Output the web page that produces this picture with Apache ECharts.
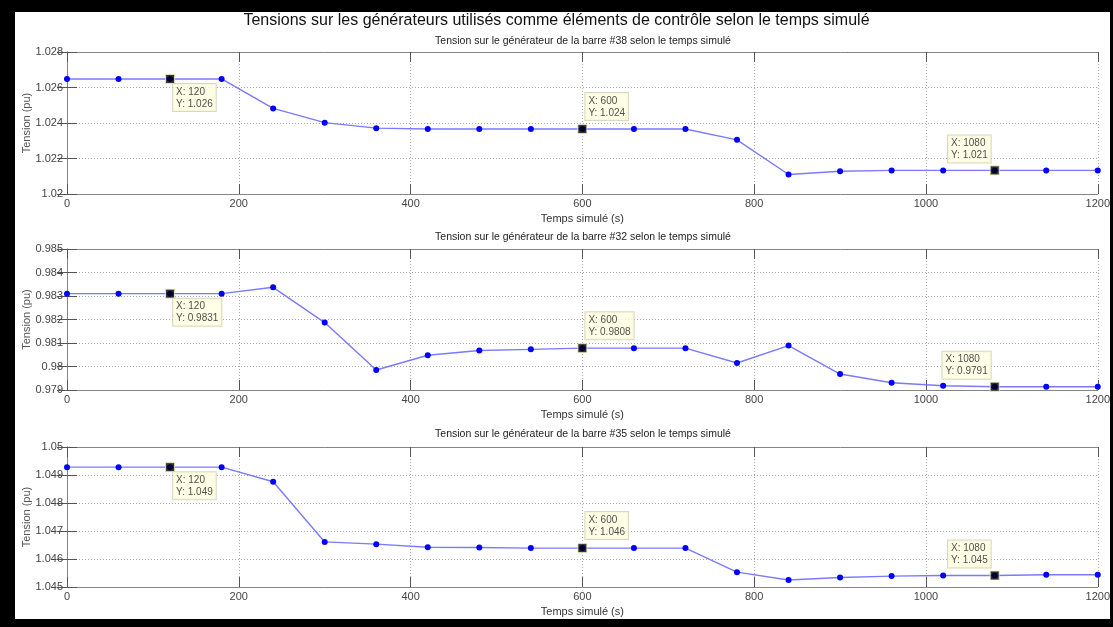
<!DOCTYPE html>
<html>
<head>
<meta charset="utf-8">
<script src="https://cdn.jsdelivr.net/npm/echarts@6/dist/echarts.min.js"></script>
<style>
html,body{margin:0;padding:0;background:#000;width:1113px;height:627px;overflow:hidden;}
#paper{position:absolute;left:15px;top:12px;width:1095px;height:607px;background:#fff;}
#chart{position:absolute;left:0;top:0;width:1113px;height:627px;}
</style>
</head>
<body>
<div id="paper"></div>
<div id="chart"></div>
<script>
// ---- data ----
const mainTitle = "Tensions sur les générateurs utilisés comme éléments de contrôle selon le temps simulé";
const subTitles = [
  "Tension sur le générateur de la barre #38 selon le temps simulé",
  "Tension sur le générateur de la barre #32 selon le temps simulé",
  "Tension sur le générateur de la barre #35 selon le temps simulé"
];
const xLabel = "Temps simulé (s)";
const yLabel = "Tension (pu)";
const times = [0,60,120,180,240,300,360,420,480,540,600,660,720,780,840,900,960,1020,1080,1140,1200];
const v38 = [1.02648,1.02648,1.02648,1.02648,1.02482,1.02402,1.02371,1.02366,1.02366,1.02366,1.02366,1.02366,1.02366,1.02305,1.02110,1.02128,1.02133,1.02133,1.02133,1.02133,1.02133];
const v32 = [0.98310,0.98310,0.98310,0.98310,0.98337,0.98187,0.97985,0.98048,0.98068,0.98073,0.98078,0.98078,0.98078,0.98015,0.98089,0.97968,0.97931,0.97918,0.97914,0.97914,0.97914];
const v35 = [1.04928,1.04928,1.04928,1.04928,1.04876,1.04661,1.04653,1.04642,1.04641,1.04639,1.04639,1.04639,1.04639,1.04553,1.04525,1.04534,1.04539,1.04541,1.04541,1.04544,1.04544];
const tipTimes = [120, 600, 1080];
const yRanges = [[1.020, 1.028, 0.002], [0.979, 0.985, 0.001], [1.045, 1.050, 0.001]];
const xRange = [0, 1200, 200];

// ---- layout ----
const grids = [
  {left: 67, right: 14, top: 52, height: 142},
  {left: 67, right: 14, top: 249, height: 141},
  {left: 67, right: 14, top: 447, height: 140}
];
const subTops = [36, 232, 429];
const series3 = [v38, v32, v35];

const axisCol = '#858585';
const tickCol = '#555';
const labelCol = '#444';
const FONT = 'Liberation Sans, Arial, sans-serif';

const xAxes = [], yAxes = [], series = [], titles = [];
titles.push({text: mainTitle, left: 'center', top: 13, padding: 0,
  textStyle: {fontSize: 16, fontWeight: 'normal', color: '#111', fontFamily: FONT}});

grids.forEach((g, i) => {
  titles.push({text: subTitles[i], left: 583, textAlign: 'center', top: subTops[i], padding: 0,
    textStyle: {fontSize: 10.5, fontWeight: 'normal', color: '#222', fontFamily: FONT}});
  const common = {type: 'value', gridIndex: i, min: xRange[0], max: xRange[1], interval: xRange[2]};
  xAxes.push(Object.assign({}, common, {
    position: 'bottom', name: xLabel, nameLocation: 'middle', nameGap: 19, nameMoveOverlap: false,
    nameTextStyle: {fontSize: 11, color: '#333', fontFamily: FONT},
    axisLine: {show: true, lineStyle: {color: axisCol, width: 1}},
    axisTick: {show: true, inside: true, length: 10, lineStyle: {color: tickCol}},
    axisLabel: {show: true, margin: 4, fontSize: 11, color: labelCol, fontFamily: FONT,
      showMinLabel: true, showMaxLabel: true, formatter: v => String(v)},
    splitLine: {show: true, lineStyle: {type: [1, 2], color: '#a8a8a8', width: 1}}
  }));
  xAxes.push(Object.assign({}, common, {
    position: 'top',
    axisLine: {show: true, lineStyle: {color: axisCol, width: 1}},
    axisTick: {show: true, inside: true, length: 10, lineStyle: {color: tickCol}},
    axisLabel: {show: false}, splitLine: {show: false}
  }));
  const r = yRanges[i];
  const ycommon = {type: 'value', gridIndex: i, min: r[0], max: r[1], interval: r[2]};
  yAxes.push(Object.assign({}, ycommon, {
    position: 'left', name: yLabel, nameLocation: 'middle', nameGap: 35, nameMoveOverlap: false,
    nameTextStyle: {fontSize: 11, color: '#555', fontFamily: FONT},
    axisLine: {show: true, lineStyle: {color: axisCol, width: 1}},
    axisTick: {show: true, inside: true, length: 10, lineStyle: {color: tickCol}},
    axisLabel: {show: true, margin: 4, fontSize: 11, color: labelCol, fontFamily: FONT,
      formatter: v => String(+(+v).toFixed(4))},
    splitLine: {show: true, lineStyle: {type: [1, 2], color: '#a8a8a8', width: 1}}
  }));
  yAxes.push(Object.assign({}, ycommon, {
    position: 'right',
    axisLine: {show: true, lineStyle: {color: axisCol, width: 1}},
    axisTick: {show: true, inside: true, length: 10, lineStyle: {color: tickCol}},
    axisLabel: {show: false}, splitLine: {show: false}
  }));

  const vals = series3[i];
  series.push({
    type: 'line', xAxisIndex: 2 * i, yAxisIndex: 2 * i,
    data: times.map((t, k) => [t, vals[k]]),
    symbol: 'circle', symbolSize: 6, showSymbol: true,
    itemStyle: {color: '#0000ff'},
    lineStyle: {color: '#7a7aff', width: 1.4},
    z: 3, silent: true
  });
  const tipPos = [
    {position: [8, 10], align: 'left', verticalAlign: 'top'},
    {position: [8, -4], align: 'left', verticalAlign: 'bottom'},
    {position: [1, -3], align: 'right', verticalAlign: 'bottom'}
  ];
  series.push({
    type: 'scatter', xAxisIndex: 2 * i, yAxisIndex: 2 * i,
    data: tipTimes.map((t, k) => {
      const y = vals[times.indexOf(t)];
      return {value: [t, y], label: Object.assign({}, tipPos[k])};
    }),
    symbol: 'rect', symbolSize: 9,
    itemStyle: {color: '#000', borderColor: '#f0f0c0', borderWidth: 1},
    label: {
      show: true, fontSize: 10, lineHeight: 12, color: '#222', fontFamily: FONT,
      backgroundColor: '#ffffe1', borderColor: '#cfcfb0', borderWidth: 1, padding: [2, 3, 1, 3],
      rich: {l: {align: 'left', fontSize: 10, lineHeight: 12, color: '#222', fontFamily: FONT}},
      formatter: p => '{l|X: ' + p.value[0] + '}\n{l|Y: ' + p.value[1].toPrecision(4) + '}'
    },
    z: 5, silent: true
  });
});

const chart = echarts.init(document.getElementById('chart'), null, {renderer: 'canvas'});
chart.setOption({
  backgroundColor: 'transparent',
  animation: false,
  title: titles,
  grid: grids,
  xAxis: xAxes,
  yAxis: yAxes,
  series: series
});
</script>
</body>
</html>
